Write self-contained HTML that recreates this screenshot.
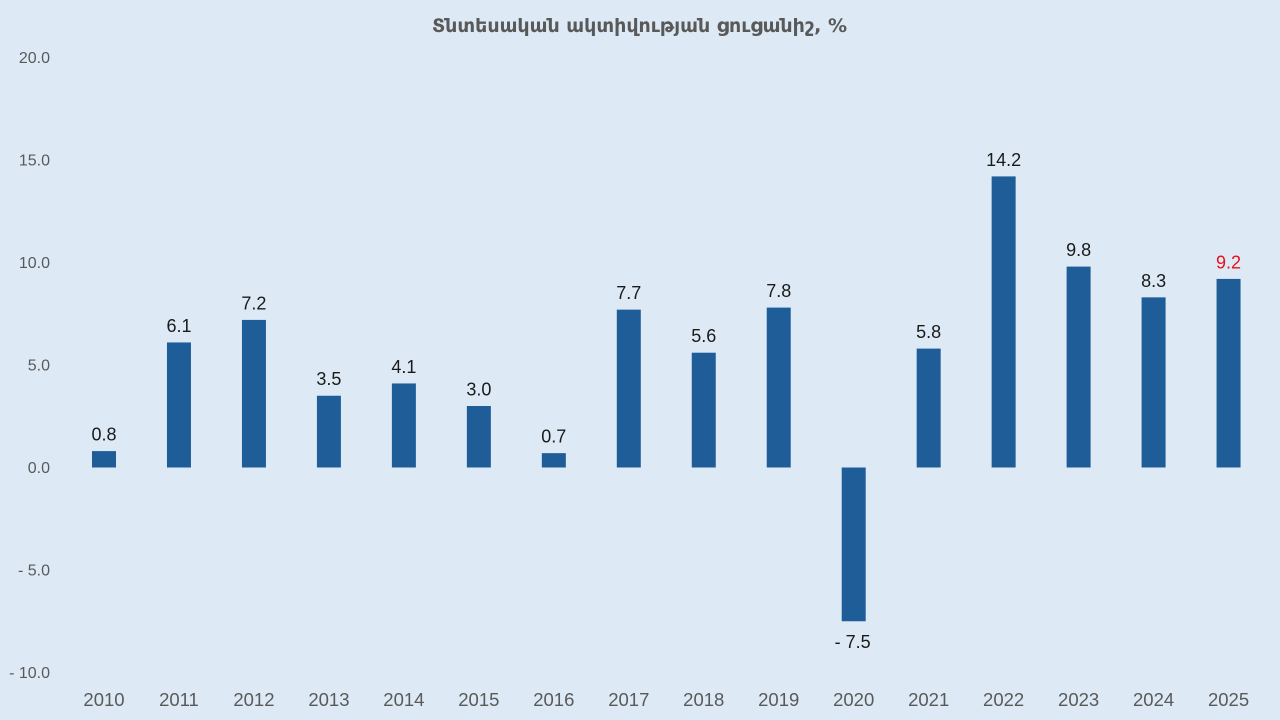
<!DOCTYPE html>
<html>
<head>
<meta charset="utf-8">
<style>
  html,body{margin:0;padding:0;background:#ddeaf6;}
  svg{display:block;}
  .yl{font-family:"Liberation Sans",sans-serif;font-size:16px;fill:#595959;text-anchor:end;}
  .xl{font-family:"Liberation Sans",sans-serif;font-size:18.5px;fill:#595959;text-anchor:middle;}
  .vl{font-family:"Liberation Sans",sans-serif;font-size:18px;fill:#1a1a1a;text-anchor:middle;}
  .b{fill:#1f5d99;}
</style>
</head>
<body>
<svg width="1280" height="720" viewBox="0 0 1280 720" xmlns="http://www.w3.org/2000/svg">
  <rect x="0" y="0" width="1280" height="720" fill="#ddeaf6"/>
  <text x="432" y="32" textLength="415" lengthAdjust="spacingAndGlyphs" style='font-family:"DejaVu Sans","Liberation Sans",sans-serif;font-size:19px;font-weight:bold;fill:#595959;'>Տնտեսական ակտիվության ցուցանիշ, %</text>

  <!-- Y axis labels -->
  <text class="yl" x="50" y="63">20.0</text>
  <text class="yl" x="50" y="165.5">15.0</text>
  <text class="yl" x="50" y="268">10.0</text>
  <text class="yl" x="50" y="370.5">5.0</text>
  <text class="yl" x="50" y="473">0.0</text>
  <text class="yl" x="50" y="575.5">- 5.0</text>
  <text class="yl" x="50" y="678">- 10.0</text>

  <!-- Bars -->
  <rect class="b" x="92" y="451.1" width="24" height="16.4"/>
  <rect class="b" x="166.97" y="342.45" width="24" height="125.05"/>
  <rect class="b" x="241.94" y="319.9" width="24" height="147.6"/>
  <rect class="b" x="316.91" y="395.75" width="24" height="71.75"/>
  <rect class="b" x="391.88" y="383.45" width="24" height="84.05"/>
  <rect class="b" x="466.85" y="406" width="24" height="61.5"/>
  <rect class="b" x="541.82" y="453.15" width="24" height="14.35"/>
  <rect class="b" x="616.79" y="309.65" width="24" height="157.85"/>
  <rect class="b" x="691.76" y="352.7" width="24" height="114.8"/>
  <rect class="b" x="766.73" y="307.6" width="24" height="159.9"/>
  <rect class="b" x="841.7" y="467.5" width="24" height="153.75"/>
  <rect class="b" x="916.67" y="348.6" width="24" height="118.9"/>
  <rect class="b" x="991.64" y="176.4" width="24" height="291.1"/>
  <rect class="b" x="1066.61" y="266.6" width="24" height="200.9"/>
  <rect class="b" x="1141.58" y="297.35" width="24" height="170.15"/>
  <rect class="b" x="1216.55" y="278.9" width="24" height="188.6"/>

  <!-- Value labels -->
  <text class="vl" x="104" y="440.6">0.8</text>
  <text class="vl" x="178.97" y="331.9">6.1</text>
  <text class="vl" x="253.94" y="309.4">7.2</text>
  <text class="vl" x="328.91" y="385.2">3.5</text>
  <text class="vl" x="403.88" y="372.9">4.1</text>
  <text class="vl" x="478.85" y="395.5">3.0</text>
  <text class="vl" x="553.82" y="442.6">0.7</text>
  <text class="vl" x="628.79" y="299.1">7.7</text>
  <text class="vl" x="703.76" y="342.2">5.6</text>
  <text class="vl" x="778.73" y="297.1">7.8</text>
  <text class="vl" x="852.7" y="648">- 7.5</text>
  <text class="vl" x="928.67" y="338.1">5.8</text>
  <text class="vl" x="1003.64" y="165.9">14.2</text>
  <text class="vl" x="1078.61" y="256.1">9.8</text>
  <text class="vl" x="1153.58" y="286.8">8.3</text>
  <text class="vl" x="1228.55" y="268.4" style="fill:#e8101a;">9.2</text>

  <!-- X labels -->
  <text class="xl" x="104" y="706">2010</text>
  <text class="xl" x="178.97" y="706">2011</text>
  <text class="xl" x="253.94" y="706">2012</text>
  <text class="xl" x="328.91" y="706">2013</text>
  <text class="xl" x="403.88" y="706">2014</text>
  <text class="xl" x="478.85" y="706">2015</text>
  <text class="xl" x="553.82" y="706">2016</text>
  <text class="xl" x="628.79" y="706">2017</text>
  <text class="xl" x="703.76" y="706">2018</text>
  <text class="xl" x="778.73" y="706">2019</text>
  <text class="xl" x="853.7" y="706">2020</text>
  <text class="xl" x="928.67" y="706">2021</text>
  <text class="xl" x="1003.64" y="706">2022</text>
  <text class="xl" x="1078.61" y="706">2023</text>
  <text class="xl" x="1153.58" y="706">2024</text>
  <text class="xl" x="1228.55" y="706">2025</text>
</svg>
</body>
</html>
